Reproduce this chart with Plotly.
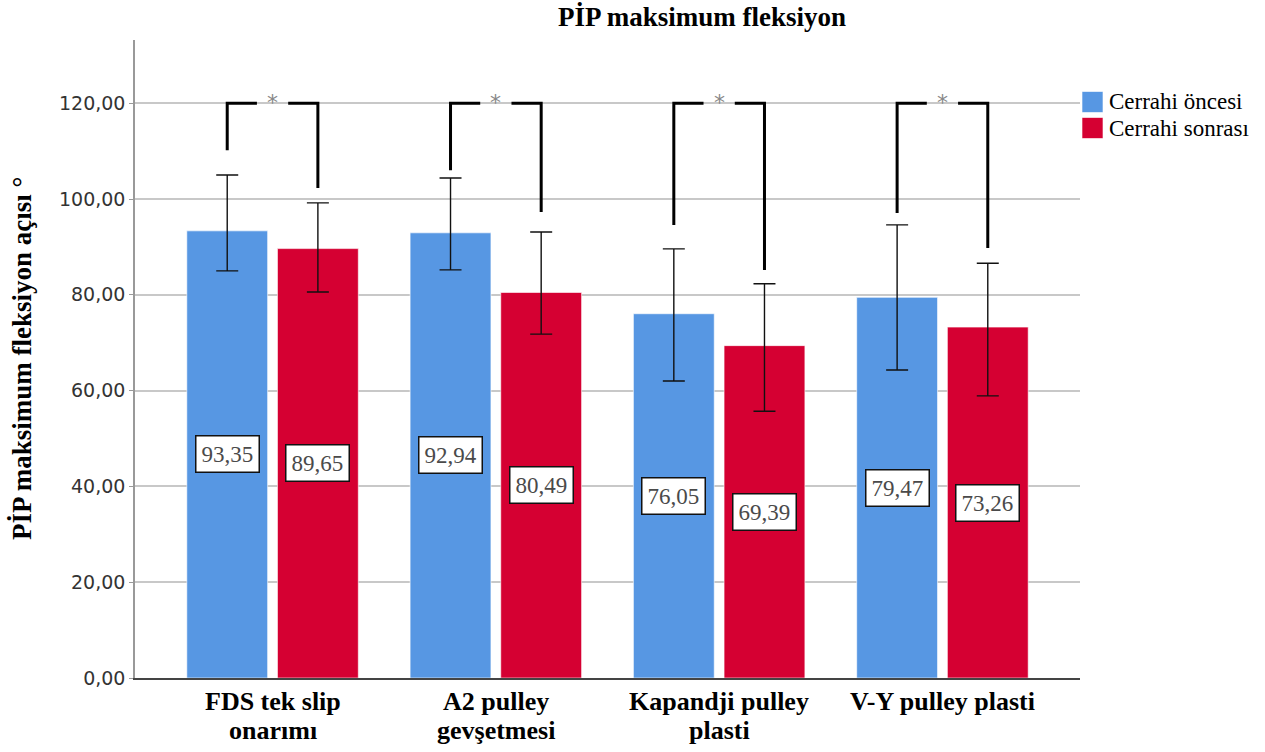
import plotly.graph_objects as go

# Groups and per-group values
categories = [["FDS tek slip", "onarımı"], ["A2 pulley", "gevşetmesi"],
              ["Kapandji pulley", "plasti"], ["V-Y pulley plasti"]]
series_names = ["Cerrahi öncesi", "Cerrahi sonrası"]
pre_values = [93.35, 92.94, 76.05, 79.47]
post_values = [89.65, 80.49, 69.39, 73.26]
pre_ci_low = [85.0, 85.2, 62.0, 64.3]
pre_ci_high = [105.0, 104.4, 89.6, 94.6]
post_ci_low = [80.6, 71.8, 55.7, 58.9]
post_ci_high = [99.2, 93.1, 82.3, 86.6]
# Significance bracket: height of the bar line and where each arm ends
bracket_level = 120.0
bracket_left_end = [110.2, 106.0, 94.6, 97.1]
bracket_right_end = [102.3, 97.3, 85.2, 89.8]
sig_marks = ["*", "*", "*", "*"]
y_ticks = [0, 20, 40, 60, 80, 100, 120]
y_tick_labels = ["0,00", "20,00", "40,00", "60,00", "80,00", "100,00", "120,00"]

BLUE = "#5797E3"
RED = "#D50032"
SERIF = "Liberation Serif"
SANS = "DejaVu Sans, Verdana, sans-serif"
OFFSET = 0.203

W, H = 1265, 752
L, R, T, B = 135, 185, 40, 74
PW, PH = W - L - R, H - T - B

x_idx = list(range(len(categories)))
x_pre = [i - OFFSET for i in x_idx]
x_post = [i + OFFSET for i in x_idx]
colors = [BLUE, RED]


def fmt(v):
    return f"{v:.2f}".replace(".", ",")


def px_x(px):
    return (px - L) / PW


def px_y(py):
    return (H - B - py) / PH


fig = go.Figure()
for name, xs, vals, lo, hi, color in [
    (series_names[0], x_pre, pre_values, pre_ci_low, pre_ci_high, BLUE),
    (series_names[1], x_post, post_values, post_ci_low, post_ci_high, RED),
]:
    fig.add_trace(go.Bar(
        x=xs, y=vals, name=name, width=0.362, showlegend=False,
        marker=dict(color=color, line=dict(color="rgba(255,255,255,0.6)", width=1)),
        error_y=dict(type="data", symmetric=False,
                     array=[h - v for h, v in zip(hi, vals)],
                     arrayminus=[v - l for l, v in zip(lo, vals)],
                     color="#111111", thickness=1.4, width=11),
    ))

annotations = []
# Boxed value labels at half bar height
for xs, vals in [(x_pre, pre_values), (x_post, post_values)]:
    for x, v in zip(xs, vals):
        annotations.append(dict(
            x=x, y=v / 2, xref="x", yref="y", text=fmt(v), showarrow=False,
            font=dict(family=SERIF, size=23, color="#4a4a4a"),
            bgcolor="white", bordercolor="#111111", borderwidth=1.5, borderpad=5,
        ))

shapes = []
gap = 0.07
for i in x_idx:
    xl, xr, xc = x_pre[i], x_post[i], i
    line = dict(color="black", width=3)
    shapes.append(dict(type="path", xref="x", yref="y", line=line,
                       path=f"M {xl} {bracket_left_end[i]} L {xl} {bracket_level} L {xc - gap} {bracket_level}"))
    shapes.append(dict(type="path", xref="x", yref="y", line=line,
                       path=f"M {xc + gap} {bracket_level} L {xr} {bracket_level} L {xr} {bracket_right_end[i]}"))
    annotations.append(dict(x=xc, y=bracket_level, xref="x", yref="y", text=sig_marks[i],
                            showarrow=False, yshift=1,
                            font=dict(family=SANS, size=22, color="#888888")))

# Category labels, one annotation per line for tight line spacing
for i, lines in enumerate(categories):
    for j, txt in enumerate(lines):
        annotations.append(dict(x=i, y=0, xref="x", yref="paper", yanchor="middle",
                                yshift=-23 - 29 * j, text=f"<b>{txt}</b>", showarrow=False,
                                font=dict(family=SERIF, size=26, color="black")))

# Y-axis title
annotations.append(dict(x=px_x(22), y=0.5, xref="paper", yref="paper", textangle=-90,
                        xanchor="center", yanchor="middle", showarrow=False,
                        text="<b>PİP maksimum fleksiyon açısı °</b>",
                        font=dict(family=SERIF, size=27, color="black")))

# Legend: square swatches with labels
for k, (name, color) in enumerate(zip(series_names, colors)):
    cy = 102 + 26 * k
    shapes.append(dict(type="rect", xref="paper", yref="paper",
                       x0=px_x(1082), x1=px_x(1103), y0=px_y(cy + 10.5), y1=px_y(cy - 10.5),
                       fillcolor=color, line=dict(color="rgba(255,255,255,0.6)", width=1)))
    annotations.append(dict(x=px_x(1107), y=px_y(cy), xref="paper", yref="paper",
                            xanchor="left", yanchor="middle", showarrow=False, text=name,
                            font=dict(family=SERIF, size=23, color="black")))

fig.update_layout(
    width=W, height=H,
    margin=dict(l=L, r=R, t=T, b=B),
    paper_bgcolor="white", plot_bgcolor="white",
    barmode="overlay",
    title=dict(text="<b>PİP maksimum fleksiyon</b>", x=702 / W, xanchor="center",
               y=1 - 17 / H, yanchor="middle", font=dict(family=SERIF, size=27, color="black")),
    xaxis=dict(range=[-0.616, 3.616], tickvals=x_idx, showticklabels=False,
               showgrid=False, zeroline=False,
               showline=True, linecolor="#444444", linewidth=1.5, ticks=""),
    yaxis=dict(range=[0, 133.2], tickvals=y_ticks, ticktext=y_tick_labels,
               tickfont=dict(family=SANS, size=19, color="#333333"),
               showgrid=True, gridcolor="#C8C8C8", gridwidth=1.5, zeroline=False,
               showline=True, linecolor="#999999", linewidth=1.5, ticks="outside",
               ticklen=4, tickcolor="#999999"),
    annotations=annotations, shapes=shapes,
    showlegend=False,
)

fig.write_html("out.html")
